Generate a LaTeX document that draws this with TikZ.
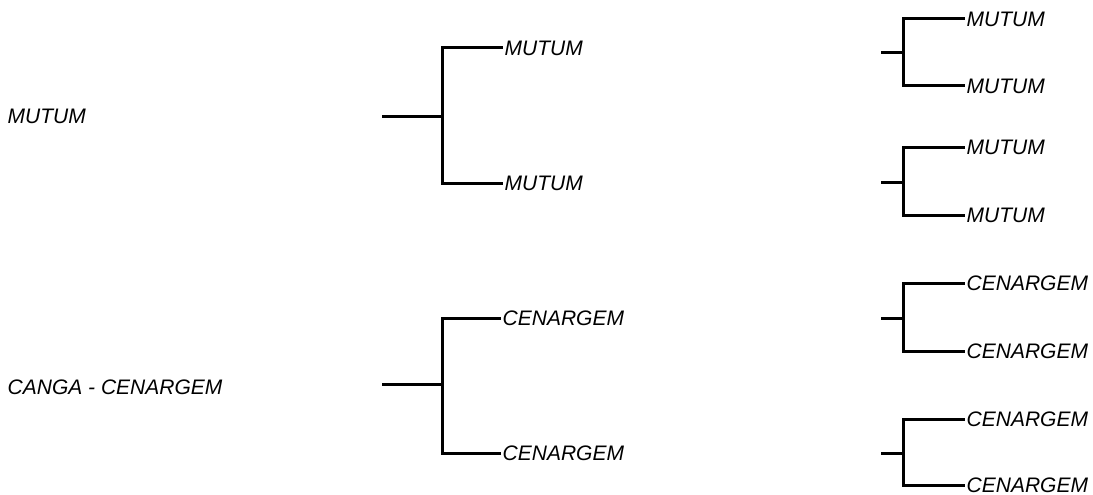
\documentclass[tikz,border=0pt]{standalone}
\usepackage{fontspec}
\setmainfont{Liberation Sans}
\begin{document}
\begin{tikzpicture}[x=1pt,y=-1pt,
  lbl/.style={font=\fontsize{21}{24}\selectfont\itshape, inner xsep=1.5pt, inner ysep=0pt, anchor=west},
  br/.style={line width=3pt, line cap=butt}]
\useasboundingbox (0,0) rectangle (1093,495);
% left labels
\node[lbl] (lm) at (6,116) {MUTUM};
\node[lbl] (lc) at (6,387) {CANGA - CENARGEM};
% middle trees
\coordinate (m1s) at (382,116);
\coordinate (m1j) at (442,116);
\node[lbl] (m1a) at (503,48) {MUTUM};
\node[lbl] (m1b) at (503,183) {MUTUM};
\draw[br] (m1s) -- (m1j);
\draw[br] (m1j) |- (m1a.west);
\draw[br] (m1j) |- (m1b.west);
\coordinate (m2s) at (382,384);
\coordinate (m2j) at (442,384);
\node[lbl] (m2a) at (501,318) {CENARGEM};
\node[lbl] (m2b) at (501,453) {CENARGEM};
\draw[br] (m2s) -- (m2j);
\draw[br] (m2j) |- (m2a.west);
\draw[br] (m2j) |- (m2b.west);
% right trees
\coordinate (r1s) at (881,53);
\coordinate (r1j) at (903,53);
\node[lbl] (r1a) at (965,19) {MUTUM};
\node[lbl] (r1b) at (965,86) {MUTUM};
\draw[br] (r1s) -- (r1j);
\draw[br] (r1j) |- (r1a.west);
\draw[br] (r1j) |- (r1b.west);
\coordinate (r2s) at (881,182);
\coordinate (r2j) at (903,182);
\node[lbl] (r2a) at (965,147) {MUTUM};
\node[lbl] (r2b) at (965,215) {MUTUM};
\draw[br] (r2s) -- (r2j);
\draw[br] (r2j) |- (r2a.west);
\draw[br] (r2j) |- (r2b.west);
\coordinate (r3s) at (881,318);
\coordinate (r3j) at (903,318);
\node[lbl] (r3a) at (965,283) {CENARGEM};
\node[lbl] (r3b) at (965,351) {CENARGEM};
\draw[br] (r3s) -- (r3j);
\draw[br] (r3j) |- (r3a.west);
\draw[br] (r3j) |- (r3b.west);
\coordinate (r4s) at (881,453);
\coordinate (r4j) at (903,453);
\node[lbl] (r4a) at (965,419) {CENARGEM};
\node[lbl] (r4b) at (965,485) {CENARGEM};
\draw[br] (r4s) -- (r4j);
\draw[br] (r4j) |- (r4a.west);
\draw[br] (r4j) |- (r4b.west);
\end{tikzpicture}
\end{document}
